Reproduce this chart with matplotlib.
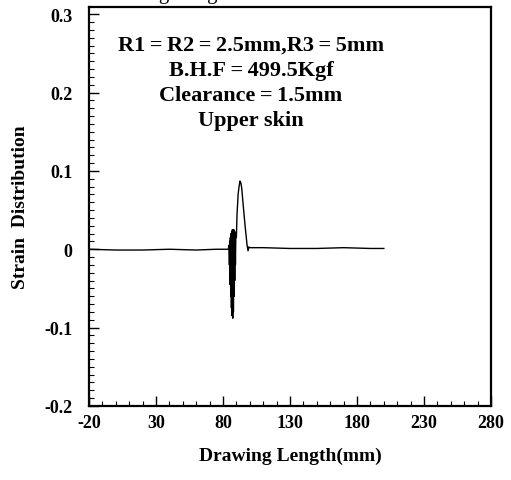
import numpy as np
import matplotlib
matplotlib.use("Agg")
import matplotlib.pyplot as plt
from matplotlib.ticker import MultipleLocator, FixedLocator

plt.rcParams['font.family'] = ['Liberation Serif', 'DejaVu Serif']
plt.rcParams['axes.unicode_minus'] = False

# strain curve
flat_in_x = [-20, 0, 20, 40, 60, 75, 84.0]
flat_in_y = [0.0, -0.001, -0.001, 0.0, -0.001, 0.0, 0.0]

osc_x = [84.5, 84.8, 85.0, 85.3, 85.5, 85.8, 86.0, 86.3, 86.5, 86.8, 87.0, 87.3,
         87.5, 87.8, 88.0, 88.3, 88.5, 88.8, 89.0, 89.3, 89.6, 90.0]
osc_y = [0.005, -0.02, 0.01, -0.045, 0.015, -0.06, 0.02, -0.075, 0.022, -0.085, 0.025, -0.088,
         0.025, -0.08, 0.025, -0.06, 0.024, -0.04, 0.022, -0.02, 0.02, 0.015]

peak_x = [90.5, 91.3, 92.0, 92.7, 93.3, 94.0, 95.0, 96.5, 98.0, 98.7, 99.3, 100.0]
peak_y = [0.045, 0.07, 0.08, 0.087, 0.085, 0.078, 0.058, 0.03, 0.005, -0.002, 0.003, 0.002]

flat_out_x = [110, 130, 150, 170, 190, 200]
flat_out_y = [0.002, 0.001, 0.001, 0.002, 0.001, 0.001]

notes = ["R1\u2009=\u2009R2\u2009=\u20092.5mm,R3\u2009=\u20095mm", "B.H.F\u2009=\u2009499.5Kgf",
         "Clearance\u2009=\u20091.5mm", "Upper skin"]

xticks = [-20, 30, 80, 130, 180, 230, 280]
yticks = [-0.2, -0.1, 0, 0.1, 0.2, 0.3]
ytick_labels = ["-0.2", "-0.1", "0", "0.1", "0.2", "0.3"]

x = np.array(flat_in_x + osc_x + peak_x + flat_out_x)
y = np.array(flat_in_y + osc_y + peak_y + flat_out_y)

fig = plt.figure(figsize=(5.11, 4.81), dpi=100)
ax = fig.add_axes([0.174, 0.154, 0.787, 0.829])

ax.plot(x, y, color='black', lw=1.0)

ax.set_xlim(-20, 280)
ax.set_ylim(-0.2, 0.309)
ax.xaxis.set_major_locator(FixedLocator(xticks))
ax.xaxis.set_minor_locator(MultipleLocator(10))
ax.yaxis.set_major_locator(FixedLocator(yticks))
ax.yaxis.set_minor_locator(MultipleLocator(0.01))
ax.set_xticklabels([str(t) for t in xticks])
ax.set_yticklabels(ytick_labels)
ax.tick_params(which='major', direction='in', length=7, width=1, labelsize=13)
ax.tick_params(axis='x', which='major', pad=6)
ax.tick_params(axis='y', which='major', pad=12)
ax.tick_params(which='minor', direction='in', length=3.5, width=0.8)
ax.tick_params(top=False, right=False)
for lab in ax.get_xticklabels() + ax.get_yticklabels():
    lab.set_fontweight('bold')
for sp in ax.spines.values():
    sp.set_linewidth(1.6)

ax.set_xlabel("Drawing Length(mm)", fontsize=14, fontweight='bold', labelpad=11)
ax.set_ylabel("Strain  Distribution", fontsize=14, fontweight='bold', labelpad=11)

for i, line in enumerate(notes):
    ax.text(0.403, 0.906 - i * 0.063, line, transform=ax.transAxes,
            ha='center', va='center', fontsize=16, fontweight='bold')

# partly cut-off caption text above the figure
fig.text(0.5, 1.012, "Drawing Length vs Strain distribution", ha='center', va='center',
         fontsize=15)

fig.savefig("out.png", dpi=100)
